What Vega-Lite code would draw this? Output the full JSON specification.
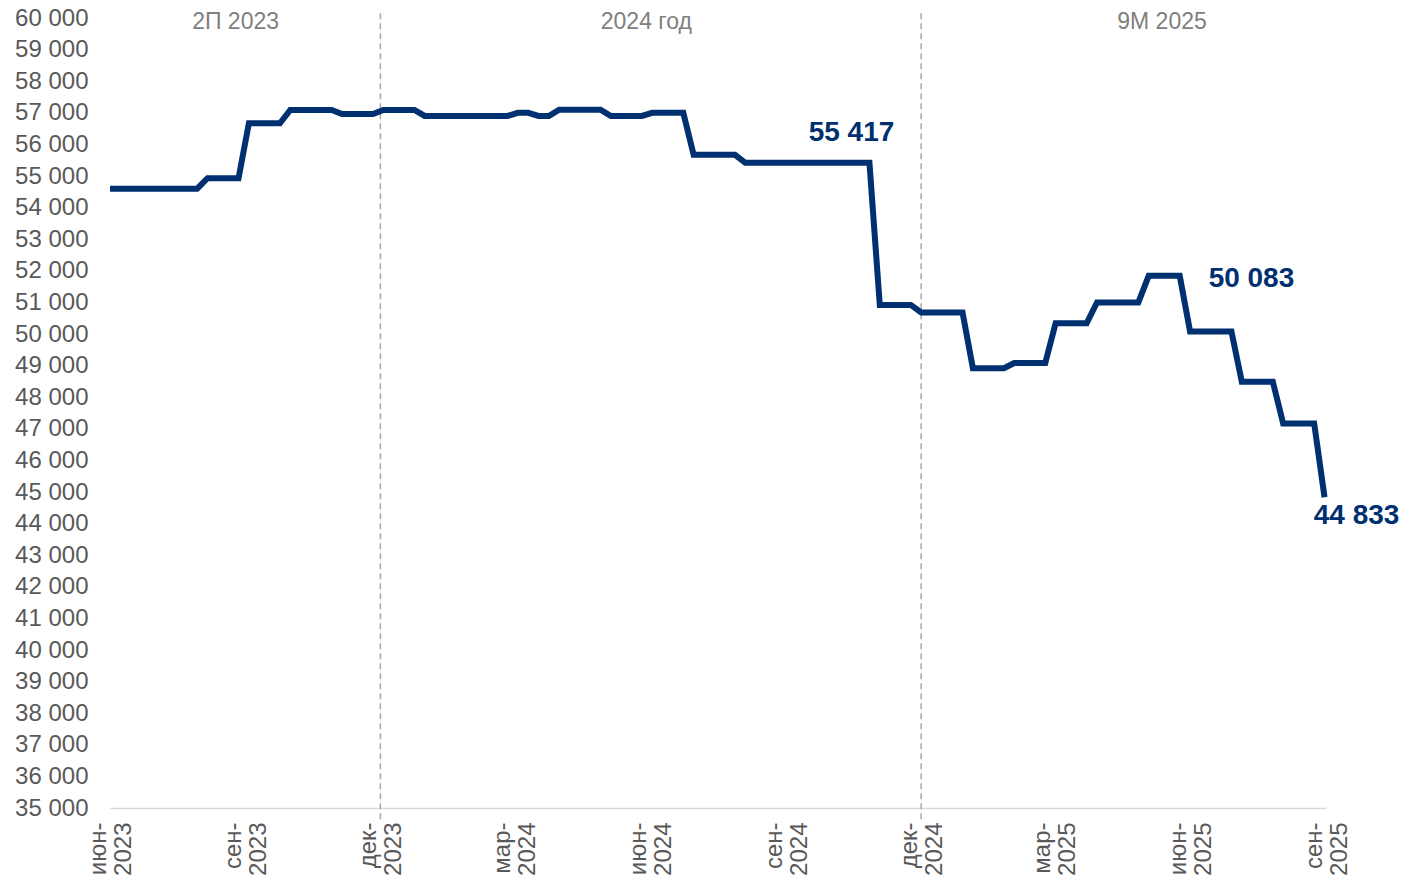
{
  "$schema": "https://vega.github.io/schema/vega-lite/v6.json",
  "width": 1216,
  "height": 790,
  "autosize": {"type": "none"},
  "padding": {"left": 110, "top": 18, "right": 76, "bottom": 71},
  "background": "white",
  "config": {"view": {"stroke": null}, "font": "Liberation Sans", "axis": {"grid": false, "labelOverlap": false, "labelFlush": false}},
  "encoding": {
    "x": {
      "field": "date",
      "type": "temporal",
      "scale": {
        "type": "utc",
        "domain": [
          {"year": 2023, "month": 6, "date": 1, "utc": true},
          {"year": 2025, "month": 9, "date": 1, "utc": true}
        ],
        "nice": false
      },
      "axis": {
        "title": null,
        "values": [
          {"year": 2023, "month": 6, "date": 1, "utc": true},
          {"year": 2023, "month": 9, "date": 1, "utc": true},
          {"year": 2023, "month": 12, "date": 1, "utc": true},
          {"year": 2024, "month": 3, "date": 1, "utc": true},
          {"year": 2024, "month": 6, "date": 1, "utc": true},
          {"year": 2024, "month": 9, "date": 1, "utc": true},
          {"year": 2024, "month": 12, "date": 1, "utc": true},
          {"year": 2025, "month": 3, "date": 1, "utc": true},
          {"year": 2025, "month": 6, "date": 1, "utc": true},
          {"year": 2025, "month": 9, "date": 1, "utc": true}
        ],
        "labelExpr": "[['янв','фев','мар','апр','май','июн','июл','авг','сен','окт','ноя','дек'][utcmonth(datum.value)] + '-', '' + utcyear(datum.value)]",
        "labelAngle": -90,
        "labelFontSize": 24,
        "labelLineHeight": 25,
        "labelColor": "#595959",
        "labelPadding": 14,
        "labelOffset": -12,
        "ticks": false,
        "domainColor": "#d9d9d9",
        "domainWidth": 1.5
      }
    }
  },
  "layer": [
    {
      "data": {"values": [{"date": "2023-12-01"}, {"date": "2024-12-01"}]},
      "mark": {"type": "rule", "color": "#a6a6a6", "strokeWidth": 1.5, "strokeDash": [6, 4]},
      "encoding": {
        "y": {
          "datum": 60150,
          "type": "quantitative",
          "scale": {"domain": [35000, 60000], "nice": false, "zero": false},
          "axis": {
            "title": null,
            "values": [35000, 36000, 37000, 38000, 39000, 40000, 41000, 42000, 43000, 44000, 45000, 46000, 47000, 48000, 49000, 50000, 51000, 52000, 53000, 54000, 55000, 56000, 57000, 58000, 59000, 60000],
            "labelExpr": "replace(format(datum.value, ','), ',', ' ')",
            "labelFontSize": 24,
            "labelColor": "#595959",
            "labelPadding": 22,
            "labelOverlap": false,
            "ticks": false,
            "domain": false
          }
        },
        "y2": {"datum": 34560}
      }
    },
    {
      "data": {"values": [
        {"date": "2023-06-01", "value": 54600},
        {"date": "2023-07-30", "value": 54600},
        {"date": "2023-08-06", "value": 54930},
        {"date": "2023-08-27", "value": 54930},
        {"date": "2023-09-03", "value": 56670},
        {"date": "2023-09-24", "value": 56670},
        {"date": "2023-10-01", "value": 57090},
        {"date": "2023-10-29", "value": 57090},
        {"date": "2023-11-05", "value": 56960},
        {"date": "2023-11-26", "value": 56960},
        {"date": "2023-12-03", "value": 57090},
        {"date": "2023-12-24", "value": 57090},
        {"date": "2023-12-31", "value": 56900},
        {"date": "2024-02-25", "value": 56900},
        {"date": "2024-03-03", "value": 57000},
        {"date": "2024-03-10", "value": 57000},
        {"date": "2024-03-17", "value": 56900},
        {"date": "2024-03-24", "value": 56900},
        {"date": "2024-03-31", "value": 57100},
        {"date": "2024-04-28", "value": 57100},
        {"date": "2024-05-05", "value": 56900},
        {"date": "2024-05-26", "value": 56900},
        {"date": "2024-06-02", "value": 57000},
        {"date": "2024-06-23", "value": 57000},
        {"date": "2024-06-30", "value": 55670},
        {"date": "2024-07-28", "value": 55670},
        {"date": "2024-08-04", "value": 55417},
        {"date": "2024-10-27", "value": 55417},
        {"date": "2024-11-03", "value": 50920},
        {"date": "2024-11-24", "value": 50920},
        {"date": "2024-12-01", "value": 50680},
        {"date": "2024-12-29", "value": 50680},
        {"date": "2025-01-05", "value": 48920},
        {"date": "2025-01-26", "value": 48920},
        {"date": "2025-02-02", "value": 49080},
        {"date": "2025-02-23", "value": 49080},
        {"date": "2025-03-02", "value": 50340},
        {"date": "2025-03-23", "value": 50340},
        {"date": "2025-03-30", "value": 51000},
        {"date": "2025-04-27", "value": 51000},
        {"date": "2025-05-04", "value": 51840},
        {"date": "2025-05-25", "value": 51840},
        {"date": "2025-06-01", "value": 50083},
        {"date": "2025-06-29", "value": 50083},
        {"date": "2025-07-06", "value": 48490},
        {"date": "2025-07-27", "value": 48490},
        {"date": "2025-08-03", "value": 47170},
        {"date": "2025-08-24", "value": 47170},
        {"date": "2025-08-31", "value": 44833}
      ]},
      "mark": {"type": "line", "color": "#003070", "strokeWidth": 6, "strokeJoin": "miter", "strokeCap": "butt"},
      "encoding": {
        "y": {
          "field": "value",
          "type": "quantitative",
          "scale": {"domain": [35000, 60000], "nice": false, "zero": false},
          "axis": {
            "title": null,
            "values": [35000, 36000, 37000, 38000, 39000, 40000, 41000, 42000, 43000, 44000, 45000, 46000, 47000, 48000, 49000, 50000, 51000, 52000, 53000, 54000, 55000, 56000, 57000, 58000, 59000, 60000],
            "labelExpr": "replace(format(datum.value, ','), ',', ' ')",
            "labelFontSize": 24,
            "labelColor": "#595959",
            "labelPadding": 22,
            "labelOverlap": false,
            "ticks": false,
            "domain": false
          }
        }
      }
    },
    {
      "data": {"values": [
        {"date": "2023-08-25", "label": "2П 2023"},
        {"date": "2024-05-29", "label": "2024 год"},
        {"date": "2025-05-13", "label": "9М 2025"}
      ]},
      "mark": {"type": "text", "fontSize": 23, "color": "#7f7f7f", "align": "center", "baseline": "middle"},
      "encoding": {
        "y": {
          "datum": 59880,
          "type": "quantitative",
          "axis": {
            "title": null,
            "values": [35000, 36000, 37000, 38000, 39000, 40000, 41000, 42000, 43000, 44000, 45000, 46000, 47000, 48000, 49000, 50000, 51000, 52000, 53000, 54000, 55000, 56000, 57000, 58000, 59000, 60000],
            "labelExpr": "replace(format(datum.value, ','), ',', ' ')",
            "labelFontSize": 24,
            "labelColor": "#595959",
            "labelPadding": 22,
            "labelOverlap": false,
            "ticks": false,
            "domain": false
          }
        },
        "text": {"field": "label"}
      }
    },
    {
      "data": {"values": [{"date": "2024-10-27", "value": 55417, "label": "55 417"}]},
      "mark": {"type": "text", "fontSize": 28, "fontWeight": "bold", "color": "#003070", "align": "center", "baseline": "middle", "dx": -18, "dy": -30},
      "encoding": {
        "y": {
          "field": "value",
          "type": "quantitative",
          "axis": {
            "title": null,
            "values": [35000, 36000, 37000, 38000, 39000, 40000, 41000, 42000, 43000, 44000, 45000, 46000, 47000, 48000, 49000, 50000, 51000, 52000, 53000, 54000, 55000, 56000, 57000, 58000, 59000, 60000],
            "labelExpr": "replace(format(datum.value, ','), ',', ' ')",
            "labelFontSize": 24,
            "labelColor": "#595959",
            "labelPadding": 22,
            "labelOverlap": false,
            "ticks": false,
            "domain": false
          }
        },
        "text": {"field": "label"}
      }
    },
    {
      "data": {"values": [{"date": "2025-06-29", "value": 50083, "label": "50 083"}]},
      "mark": {"type": "text", "fontSize": 28, "fontWeight": "bold", "color": "#003070", "align": "center", "baseline": "middle", "dx": 20, "dy": -52},
      "encoding": {
        "y": {
          "field": "value",
          "type": "quantitative",
          "axis": {
            "title": null,
            "values": [35000, 36000, 37000, 38000, 39000, 40000, 41000, 42000, 43000, 44000, 45000, 46000, 47000, 48000, 49000, 50000, 51000, 52000, 53000, 54000, 55000, 56000, 57000, 58000, 59000, 60000],
            "labelExpr": "replace(format(datum.value, ','), ',', ' ')",
            "labelFontSize": 24,
            "labelColor": "#595959",
            "labelPadding": 22,
            "labelOverlap": false,
            "ticks": false,
            "domain": false
          }
        },
        "text": {"field": "label"}
      }
    },
    {
      "data": {"values": [{"date": "2025-08-31", "value": 44833, "label": "44 833"}]},
      "mark": {"type": "text", "fontSize": 28, "fontWeight": "bold", "color": "#003070", "align": "center", "baseline": "middle", "dx": 32, "dy": 19},
      "encoding": {
        "y": {
          "field": "value",
          "type": "quantitative",
          "axis": {
            "title": null,
            "values": [35000, 36000, 37000, 38000, 39000, 40000, 41000, 42000, 43000, 44000, 45000, 46000, 47000, 48000, 49000, 50000, 51000, 52000, 53000, 54000, 55000, 56000, 57000, 58000, 59000, 60000],
            "labelExpr": "replace(format(datum.value, ','), ',', ' ')",
            "labelFontSize": 24,
            "labelColor": "#595959",
            "labelPadding": 22,
            "labelOverlap": false,
            "ticks": false,
            "domain": false
          }
        },
        "text": {"field": "label"}
      }
    }
  ]
}
